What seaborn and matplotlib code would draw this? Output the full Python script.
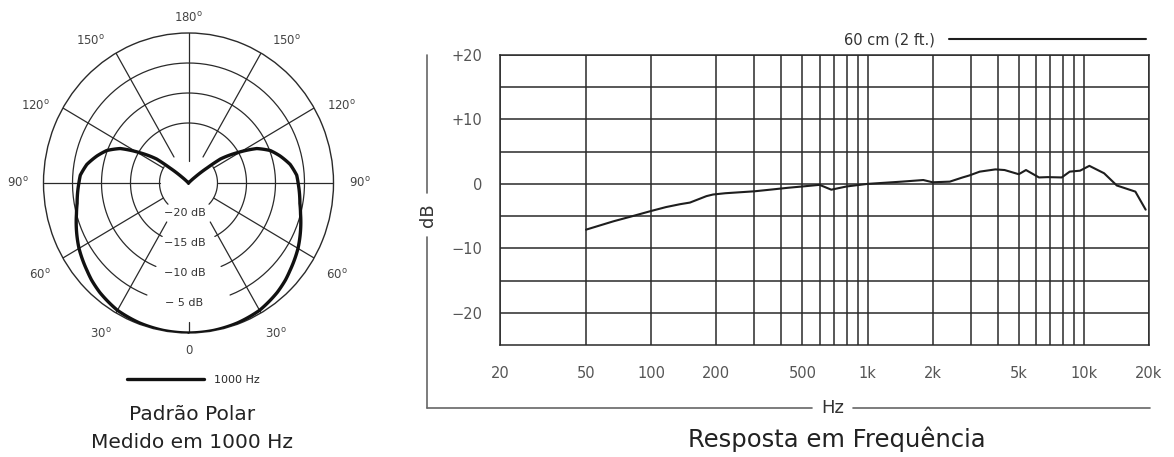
import numpy as np
import pandas as pd
import matplotlib
matplotlib.use("Agg")
import matplotlib.pyplot as plt
import seaborn as sns
from matplotlib.lines import Line2D
from matplotlib import transforms

# ---------------- data ----------------
# polar pattern (half, symmetric), angle from front in degrees -> level in dB
polar_angle_deg = [0, 10, 20, 30, 40, 46, 50, 60, 70, 75, 80, 90, 94, 100, 106,
                   111, 116, 121, 126, 128, 131, 134, 180]
polar_db = [0, -0.05, -0.2, -0.5, -1.2, -1.75, -2.2, -3.2, -4.4, -5.0, -5.5, -6.1,
            -6.3, -7.2, -8.6, -9.9, -11.9, -15.2, -18.2, -20.9, -23.5, -25, -25]
polar_series = "1000 Hz"

# frequency response
freq_hz = [50, 67, 80, 100, 117, 136, 151, 162, 180, 193, 220, 300, 366, 430, 500,
           600, 680, 800, 1000, 1440, 1810, 2000, 2400, 2750, 2950, 3300, 3900,
           4300, 5000, 5400, 6200, 6800, 7900, 8600, 9600, 10600, 12400, 14200,
           17300, 19300]
response_db = [-7.1, -5.8, -5.1, -4.2, -3.6, -3.15, -2.9, -2.5, -1.9, -1.65, -1.45,
               -1.15, -0.85, -0.6, -0.4, -0.15, -0.9, -0.4, 0.0, 0.35, 0.6, 0.25,
               0.35, 1.0, 1.3, 1.9, 2.25, 2.15, 1.5, 2.15, 1.0, 1.05, 1.0, 1.9,
               2.05, 2.8, 1.65, -0.25, -1.2, -4.0]
response_series = "60 cm (2 ft.)"

x_tick_vals = [20, 50, 100, 200, 500, 1000, 2000, 5000, 10000, 20000]
x_tick_labels = ["20", "50", "100", "200", "500", "1k", "2k", "5k", "10k", "20k"]
x_minor_vals = [300, 400, 600, 700, 800, 900, 3000, 4000, 6000, 7000, 8000, 9000]
y_tick_vals = [-20, -10, 0, 10, 20]
y_tick_labels = ["\u221220", "\u221210", "0", "+10", "+20"]
y_minor_vals = [-15, -5, 5, 15]

ring_db = [-5, -10, -15, -20]
ring_labels = ["\u2212 5 dB", "\u221210 dB", "\u221215 dB", "\u221220 dB"]
angle_labels = ["0", "30", "60", "90", "120", "150", "180"]

# ---------------- style ----------------
sns.set_theme(style="white")
plt.rcParams["font.family"] = ["DejaVu Sans"]
plt.rcParams["mathtext.fontset"] = "dejavusans"

W, H = 1174, 457
fig = plt.figure(figsize=(W / 100, H / 100), dpi=100)
fig.patch.set_facecolor("white")


def fx(px):
    return px / W


def fy(py):
    return 1 - py / H


GRID = "#2a2a2a"

# ---------------- frequency response ----------------
axf = fig.add_axes([fx(500), fy(345), (1149 - 500) / W, (345 - 55) / H])
df = pd.DataFrame({"Hz": freq_hz, "dB": response_db})
sns.lineplot(data=df, x="Hz", y="dB", ax=axf, color="#1e1e1e", lw=1.5,
             label=response_series, zorder=5)
axf.set_xscale("log")
axf.set_xlim(20, 20000)
axf.set_ylim(-25, 20)
axf.set_xticks(x_tick_vals)
axf.set_xticklabels(x_tick_labels)
axf.set_xticks(x_minor_vals, minor=True)
axf.xaxis.set_minor_formatter(matplotlib.ticker.NullFormatter())
axf.set_yticks(y_tick_vals)
axf.set_yticklabels(y_tick_labels)
axf.set_yticks(y_minor_vals, minor=True)
axf.grid(True, which="both", color=GRID, lw=1.1)
axf.tick_params(which="both", length=0)
axf.tick_params(axis="x", pad=15, labelsize=10.5, labelcolor="#555555")
axf.tick_params(axis="y", pad=13, labelsize=10.5, labelcolor="#555555")
for s in axf.spines.values():
    s.set_visible(True)
    s.set_color(GRID)
    s.set_linewidth(1.1)
axf.set_xlabel("")
axf.set_ylabel("")
axf.legend(loc="center right", bbox_to_anchor=(fx(1146), fy(40)),
           bbox_transform=fig.transFigure, frameon=False, markerfirst=False,
           handlelength=13.5, handletextpad=1.0, borderpad=0, borderaxespad=0,
           fontsize=10.5, labelcolor="#333333")

# axis caption lines
for (x0, y0, x1, y1) in [(427, 55, 427, 193), (427, 237, 427, 408),
                         (427, 408, 812, 408), (853, 408, 1150, 408)]:
    fig.add_artist(Line2D([fx(x0), fx(x1)], [fy(y0), fy(y1)], color="#666666",
                          lw=1.2, transform=fig.transFigure))
fig.text(fx(428), fy(215), "dB", rotation=90, ha="center", va="center",
         fontsize=13, color="#333333")
fig.text(fx(833), fy(408), "Hz", ha="center", va="center", fontsize=13,
         color="#333333")
fig.text(fx(837), fy(439), "Resposta em Frequência", ha="center", va="center",
         fontsize=17.5, color="#222222")

# ---------------- polar pattern ----------------
axp = fig.add_axes([fx(43.5), fy(333), 290 / W, 300 / H], projection="polar")
axp.set_aspect("auto")
axp.set_theta_zero_location("S")
axp.set_ylim(-25, 0)
axp.grid(False)
axp.set_xticks([])
axp.set_yticks([])
axp.spines["polar"].set_color(GRID)
axp.spines["polar"].set_linewidth(1.0)

half_t = np.radians(polar_angle_deg)
theta_full = np.concatenate([-half_t[::-1], half_t[1:]])
db_full = np.concatenate([np.array(polar_db)[::-1], np.array(polar_db)[1:]])
pdf = pd.DataFrame({"theta": theta_full, "db": db_full})
sns.lineplot(data=pdf, x="theta", y="db", ax=axp, sort=False, estimator=None,
             color="#111111", lw=2.4, label=polar_series, zorder=5)
pattern_line = axp.get_lines()[-1]
pattern_line.get_path()._interpolation_steps = 40   # draw along polar arcs
axp.set_xlabel("")
axp.set_ylabel("")

# ring arcs (with gaps for the labels)
ring_gaps = {-5: [(21, 339)], -10: [(22, 338)], -15: [(27, 333)],
             -20: [(45, 123), (237, 315)]}
for r in ring_db:
    for a0, a1 in ring_gaps[r]:
        th = np.radians(np.linspace(a0, a1, 200))
        axp.plot(th, np.full_like(th, r), color=GRID, lw=0.9, zorder=2)
# spokes
spoke_inner = {30: -17.5, 60: -20, 90: -20, 120: -20, 150: -20}
for a, rin in spoke_inner.items():
    for sgn in (1, -1):
        axp.plot([np.radians(sgn * a)] * 2, [rin, 0], color=GRID, lw=0.9, zorder=2)
axp.plot([np.pi] * 2, [-21.3, 0], color=GRID, lw=0.9, zorder=2)
axp.plot([0, 0], [-1.8, 0], color=GRID, lw=0.9, zorder=2)

# ring labels
off = transforms.offset_copy(axp.transData, fig=fig, x=-4, y=0, units="dots")
for r, lab in zip(ring_db, ring_labels):
    axp.text(0, r, lab, transform=off, ha="center", va="center", fontsize=8,
             color="#333333", zorder=6)

# angle labels (angle position, radius)
label_pos = {"0": (0, 3.0), "30": (31, 4.3), "60": (59, 4.9), "90": (90, 4.5),
             "120": (116, 4.3), "150": (144.5, 4.1), "180": (180, 2.5)}
for lab in angle_labels:
    a, r = label_pos[lab]
    txt = lab if lab == "0" else lab + r"$^{\mathrm{o}}$"
    sides = (1,) if a in (0, 180) else (1, -1)
    for sgn in sides:
        axp.text(np.radians(sgn * a), r, txt, ha="center", va="center",
                 fontsize=8.5, color="#444444")

axp.legend(loc="center left", bbox_to_anchor=(fx(127), fy(380)),
           bbox_transform=fig.transFigure, frameon=False, handlelength=6.9,
           handletextpad=0.9, borderpad=0, borderaxespad=0, fontsize=8)

fig.text(fx(192), fy(415), "Padrão Polar", ha="center", va="center",
         fontsize=14.5, color="#222222")
fig.text(fx(192), fy(442), "Medido em 1000 Hz", ha="center", va="center",
         fontsize=14.5, color="#222222")

fig.savefig("out.png", dpi=100, facecolor="white")
